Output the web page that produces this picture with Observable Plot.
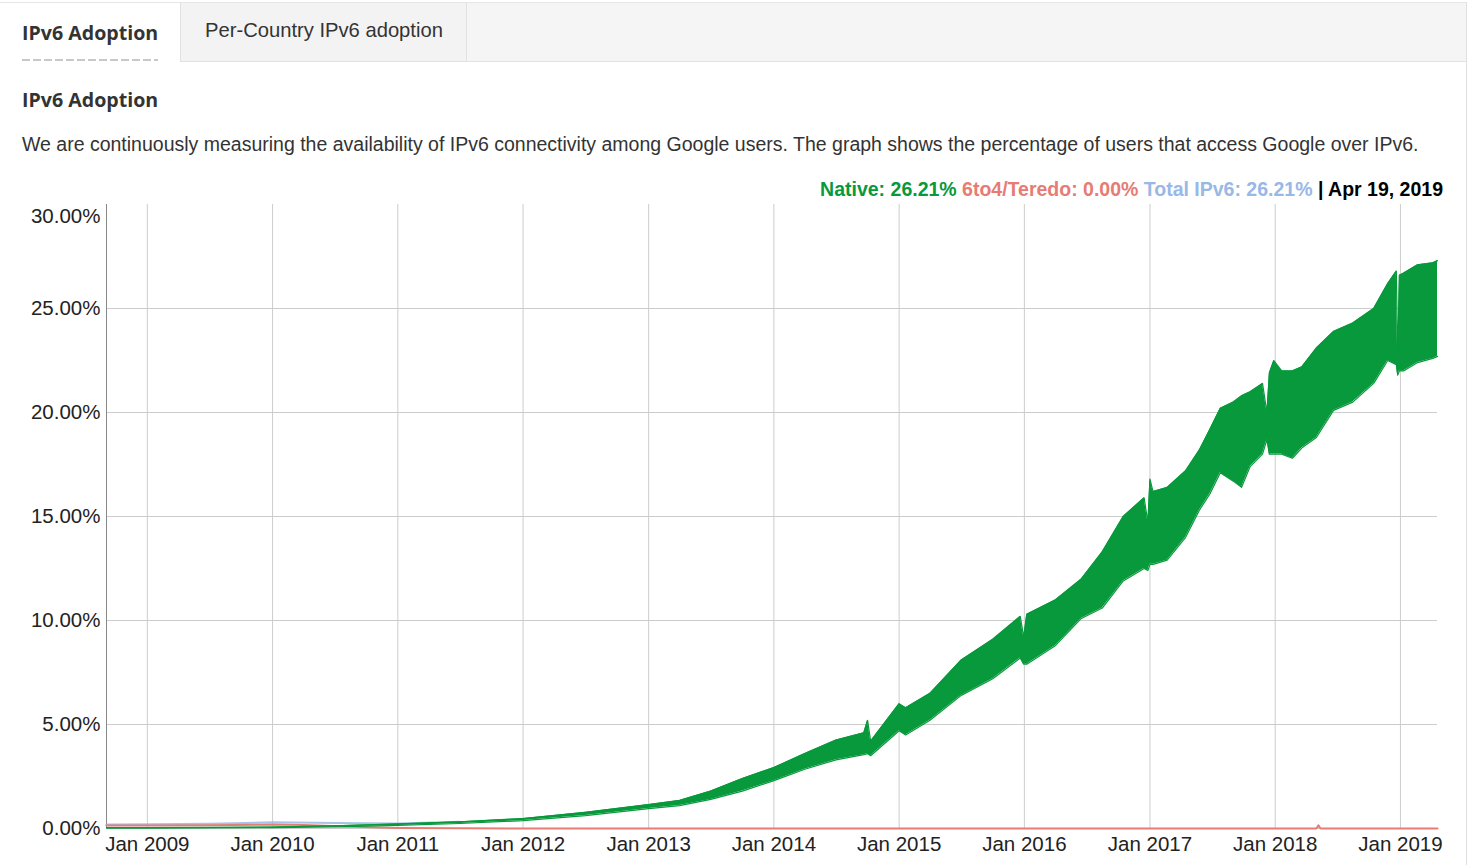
<!DOCTYPE html>
<html>
<head>
<meta charset="utf-8">
<script src="https://cdn.jsdelivr.net/npm/d3@7"></script>
<script src="https://cdn.jsdelivr.net/npm/@observablehq/plot@0.6"></script>
<style>
  html, body { margin: 0; padding: 0; background: #fff; }
  body { width: 1470px; height: 865px; position: relative; overflow: hidden; font-family: "Liberation Sans", Arial, sans-serif; color: #333; }
  #frame { position: absolute; left: 0; top: 2px; width: 1466px; height: 863px; border-top: 1px solid #e6e6e6; border-right: 1px solid #e0e0e0; }
  #tabbar { position: absolute; left: 0; top: 0; width: 1466px; height: 58px; background: #f5f5f5; border-bottom: 1px solid #e2e2e2; }
  #tab1 { position: absolute; left: 0; top: 0; width: 180px; height: 59px; background: #fff; }
  #tab1 span { position: absolute; left: 22px; top: 16px; font-family: "Open Sans", sans-serif; font-weight: 700; font-size: 19.6px; color: #333; white-space: nowrap; }
  #tab1 .dash { position: absolute; left: 22px; top: 56px; width: 136px; height: 2px; background: repeating-linear-gradient(to right, #c8c8c8 0 8px, transparent 8px 11px); }
  #tab2 { position: absolute; left: 180px; top: 0; width: 285px; height: 58px; background: #f3f3f3; border-left: 1px solid #e2e2e2; border-right: 1px solid #e2e2e2; }
  #tab2 span { position: absolute; left: 24px; top: 16px; font-size: 20.2px; color: #333; white-space: nowrap; }
  #heading { position: absolute; left: 22px; top: 86px; font-family: "Open Sans", sans-serif; font-weight: 700; font-size: 19.6px; color: #333; white-space: nowrap; }
  #desc { position: absolute; left: 22px; top: 133px; font-size: 19.5px; color: #333; white-space: nowrap; }
  #legend { position: absolute; right: 27px; top: 178px; font-size: 19.5px; font-weight: 700; white-space: nowrap; }
  #chart { position: absolute; left: 0; top: 200px; }
</style>
</head>
<body>
<div id="frame">
  <div id="tabbar">
    <div id="tab1"><span>IPv6 Adoption</span><div class="dash"></div></div>
    <div id="tab2"><span>Per-Country IPv6 adoption</span></div>
  </div>
</div>
<div id="heading">IPv6 Adoption</div>
<div id="desc">We are continuously measuring the availability of IPv6 connectivity among Google users. The graph shows the percentage of users that access Google over IPv6.</div>
<div id="legend"></div>
<div id="chart"></div>
<script>
// ---- data ----
const nativeDates = ["2008-09-04","2009-01-01","2009-07-01","2010-01-01","2010-07-01","2011-01-01","2011-07-01","2012-01-01","2012-07-01","2013-01-01","2013-04-01","2013-07-01","2013-10-01","2014-01-01","2014-04-01","2014-07-01","2014-09-20","2014-10-01","2014-10-10","2015-01-01","2015-01-20","2015-04-01","2015-07-01","2015-10-01","2015-12-20","2015-12-30","2016-01-08","2016-04-01","2016-06-15","2016-08-15","2016-10-15","2016-12-15","2016-12-26","2017-01-01","2017-01-10","2017-02-20","2017-04-15","2017-05-25","2017-06-25","2017-07-25","2017-09-01","2017-09-25","2017-10-20","2017-11-25","2017-12-08","2017-12-15","2017-12-28","2018-01-20","2018-02-20","2018-03-20","2018-05-01","2018-06-20","2018-08-15","2018-10-15","2018-11-25","2018-12-20","2018-12-24","2018-12-29","2019-01-10","2019-02-20","2019-04-05","2019-04-19"];
const nativeLow  = [0.02,0.02,0.03,0.04,0.08,0.15,0.24,0.38,0.62,0.96,1.1,1.4,1.8,2.3,2.85,3.3,3.55,3.6,3.5,4.7,4.5,5.2,6.4,7.2,8.2,7.9,7.9,8.8,10.1,10.6,11.9,12.5,12.4,12.7,12.7,12.9,14.0,15.3,16.1,17.1,16.7,16.4,17.4,18.0,18.7,18.0,18.0,18.0,17.8,18.3,18.8,20.1,20.5,21.4,22.5,22.3,21.8,22.0,22.0,22.4,22.6,22.7];
const nativeHigh = [0.04,0.04,0.05,0.07,0.13,0.22,0.32,0.48,0.78,1.15,1.35,1.8,2.4,2.93,3.6,4.25,4.6,5.2,4.2,6.0,5.8,6.5,8.1,9.1,10.2,9.2,10.3,11.0,12.0,13.3,15.0,15.9,14.7,16.8,16.2,16.4,17.2,18.2,19.2,20.2,20.5,20.8,21.0,21.4,20.0,21.9,22.5,22.0,22.0,22.2,23.1,23.9,24.3,25.0,26.2,26.8,22.6,26.6,26.7,27.1,27.2,27.3];

const teredoDates  = ["2008-09-04","2009-01-01","2009-07-01","2010-01-01","2010-04-01","2010-08-01","2011-01-01","2011-07-01","2012-01-01","2018-05-01","2018-05-07","2018-05-13","2019-04-19"];
const teredoValues = [0.14,0.15,0.16,0.19,0.17,0.10,0.03,0.01,0,0,0.15,0,0];

const totalDates  = ["2008-09-04","2009-01-01","2009-07-01","2010-01-01","2010-07-01","2011-01-01","2011-07-01"];
const totalValues = [0.19,0.21,0.23,0.30,0.27,0.24,0.32];

const xTicks = ["2009-01-01","2010-01-01","2011-01-01","2012-01-01","2013-01-01","2014-01-01","2015-01-01","2016-01-01","2017-01-01","2018-01-01","2019-01-01"];
const xTickLabels = ["Jan 2009","Jan 2010","Jan 2011","Jan 2012","Jan 2013","Jan 2014","Jan 2015","Jan 2016","Jan 2017","Jan 2018","Jan 2019"];
const yTicks = [0,5,10,15,20,25];
const yTickLabels = ["0.00%","5.00%","10.00%","15.00%","20.00%","25.00%"];
const yTopTick = [30];
const yTopLabel = ["30.00%"];

const legendItems = [
  {text: "Native: 26.21%", color: "#07993b"},
  {text: "6to4/Teredo: 0.00%", color: "#e67c73"},
  {text: "Total IPv6: 26.21%", color: "#98b8e6"},
  {text: "| Apr 19, 2019", color: "#000"}
];
const domainDates = ["2008-09-04","2019-04-19"];

// ---- build ----
const GREEN = "#07993b", RED = "#e67c73", BLUE = "#98b8e6";
const parse = s => new Date(s + "T00:00:00Z");
const nativeData = nativeDates.map((d, i) => ({date: parse(d), low: nativeLow[i], high: nativeHigh[i]}));
const teredoData = teredoDates.map((d, i) => ({date: parse(d), v: teredoValues[i]}));
const totalData = totalDates.map((d, i) => ({date: parse(d), v: totalValues[i]}));
const xTickDates = xTicks.map(parse);
const xLabelMap = new Map(xTickDates.map((d, i) => [+d, xTickLabels[i]]));
const yLabelMap = new Map(yTicks.map((v, i) => [v, yTickLabels[i]]));

document.getElementById("legend").innerHTML = legendItems
  .map(it => `<span style="color:${it.color}">${it.text}</span>`).join(" ");

const plot = Plot.plot({
  width: 1470,
  height: 665,
  marginLeft: 106,
  marginRight: 33,
  marginTop: 4,
  marginBottom: 37,
  style: {fontFamily: "'Liberation Sans', Arial, sans-serif", fontSize: "20.5px", color: "#222", background: "transparent"},
  x: {type: "utc", domain: domainDates.map(parse)},
  y: {domain: [0, 30]},
  marks: [
    Plot.ruleY(yTicks, {stroke: "#cccccc", strokeWidth: 1}),
    Plot.ruleX(xTickDates, {y1: 0, y2: 30, stroke: "#cccccc", strokeWidth: 1}),
    Plot.ruleX([parse(domainDates[0])], {y1: 0, y2: 30, stroke: "#888", strokeWidth: 1}),
    Plot.axisX(xTickDates, {tickSize: 0, tickPadding: 8, tickFormat: d => xLabelMap.get(+d), fontSize: 20.5, fill: "#222"}),
    Plot.axisY(yTicks, {tickSize: 0, tickPadding: 6, tickFormat: v => yLabelMap.get(v), fontSize: 20.5, fill: "#222"}),
    Plot.text(yTopTick, {x: parse(domainDates[0]), y: d => d, text: (d, i) => yTopLabel[i], textAnchor: "end", dx: -6, dy: 12, fontSize: 20.5, fill: "#222"}),
    Plot.lineY(totalData, {x: "date", y: "v", stroke: BLUE, strokeWidth: 2, strokeOpacity: 0.85}),
    Plot.lineY(teredoData, {x: "date", y: "v", stroke: RED, strokeWidth: 2}),
    Plot.areaY(nativeData, {x: "date", y1: "low", y2: "high", fill: GREEN, curve: "linear"}),
    Plot.lineY(nativeData, {x: "date", y: "high", stroke: GREEN, strokeWidth: 1.2}),
    Plot.lineY(nativeData, {x: "date", y: "low", stroke: GREEN, strokeWidth: 1.2})
  ]
});
document.getElementById("chart").appendChild(plot);
</script>
</body>
</html>
